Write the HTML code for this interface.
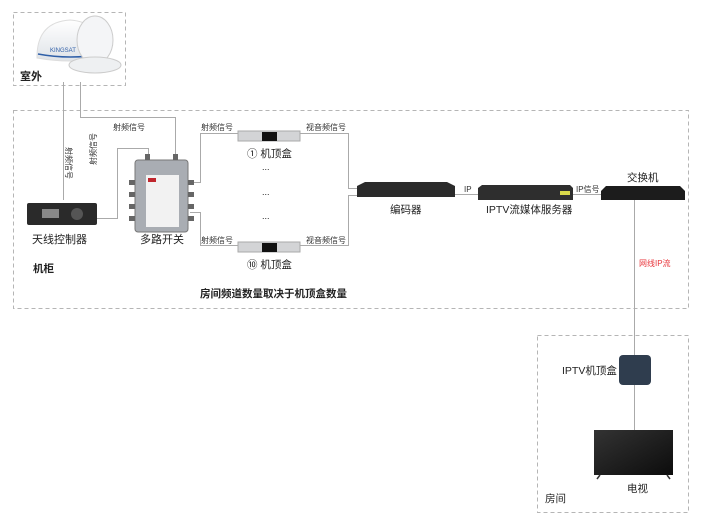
<!DOCTYPE html>
<html><head><meta charset="utf-8"><style>
body{margin:0;background:#fff}
svg text{font-family:"Liberation Sans","Noto Sans CJK SC",sans-serif}
</style></head><body>
<svg width="702" height="524" viewBox="0 0 702 524" xmlns="http://www.w3.org/2000/svg">
<defs>
<linearGradient id="dome" x1="0" y1="0" x2="0" y2="1"><stop offset="0" stop-color="#fff"/><stop offset="1" stop-color="#dfe3e8"/></linearGradient>
<linearGradient id="tv" x1="0" y1="0" x2="1" y2="1"><stop offset="0" stop-color="#333"/><stop offset="1" stop-color="#0c0c0c"/></linearGradient>
</defs>
<g fill="none" stroke="#b5b5b5" stroke-dasharray="4,3" stroke-width="1">
<rect x="13.5" y="12.5" width="112" height="73"/>
<rect x="13.5" y="110.5" width="675" height="198"/>
<rect x="537.5" y="335.5" width="151" height="177"/>
</g>
<g fill="none" stroke="#aaa" stroke-width="1">
<path d="M63.5 82V200"/>
<path d="M80.5 82V117.5H175.5V157"/>
<path d="M97 218.5H117.5V148.5H148.5V158"/>
<path d="M190 182.5H200.5V133.5H240"/>
<path d="M190 212.5H200.5V245.5H240"/>
<path d="M300 133.5H348.5V188.5H357"/>
<path d="M300 245.5H348.5V195.5H357"/>
<path d="M455 194.5H480"/>
<path d="M573 194.5H602"/>
<path d="M634.5 200V432"/>
</g>
<!-- dome -->
<path d="M37 55Q38 22 70 20Q100 22 104 52L104 58Q70 64 37 58Z" fill="url(#dome)" stroke="#ddd"/>
<path d="M38 54Q70 60 104 54" stroke="#2f5fa8" stroke-width="1.5" fill="none"/>
<text x="50" y="52" font-size="6" fill="#2f5fa8">KINGSAT</text>
<ellipse cx="95" cy="40" rx="18" ry="24" fill="#f4f5f7" stroke="#ccc"/>
<ellipse cx="95" cy="65" rx="26" ry="8" fill="#eef0f2" stroke="#ccc"/>
<text x="20" y="80" font-size="11" font-weight="bold" fill="#222">室外</text>
<!-- controller -->
<rect x="27" y="203" width="70" height="22" rx="2" fill="#2a2a2a"/>
<rect x="42" y="209" width="17" height="9" fill="#888"/>
<circle cx="77" cy="214" r="6" fill="#555"/>
<text x="32" y="243" font-size="11" fill="#222">天线控制器</text>
<!-- switch -->
<rect x="135" y="160" width="53" height="72" rx="3" fill="#a9adb3" stroke="#777"/>
<rect x="146" y="175" width="33" height="52" fill="#f2f2f2"/>
<rect x="148" y="178" width="8" height="4" fill="#c0262d"/>
<g fill="#666"><rect x="129" y="180" width="6" height="5"/><rect x="129" y="192" width="6" height="5"/><rect x="129" y="204" width="6" height="5"/><rect x="129" y="216" width="6" height="5"/><rect x="188" y="180" width="6" height="5"/><rect x="188" y="192" width="6" height="5"/><rect x="188" y="204" width="6" height="5"/><rect x="188" y="216" width="6" height="5"/><rect x="145" y="154" width="5" height="6"/><rect x="173" y="154" width="5" height="6"/></g>
<text x="140" y="243" font-size="11" fill="#222">多路开关</text>
<!-- STBs -->
<g><rect x="238" y="131" width="62" height="10" fill="#d3d4d6" stroke="#aaa"/><rect x="262" y="132" width="15" height="9" fill="#111"/></g>
<g><rect x="238" y="242" width="62" height="10" fill="#d3d4d6" stroke="#aaa"/><rect x="262" y="243" width="15" height="9" fill="#111"/></g>
<text x="247" y="157" font-size="10.5" fill="#222">① 机顶盒</text>
<text x="247" y="268" font-size="10.5" fill="#222">⑩ 机顶盒</text>
<text x="262" y="170" font-size="9" fill="#222">...</text>
<text x="262" y="195" font-size="9" fill="#222">...</text>
<text x="262" y="219" font-size="9" fill="#222">...</text>
<g font-size="8" fill="#333">
<text x="113" y="130">射频信号</text>
<text x="201" y="130">射频信号</text>
<text x="306" y="130">视音频信号</text>
<text x="201" y="243">射频信号</text>
<text x="306" y="243">视音频信号</text>
<text x="464" y="192">IP</text>
<text x="576" y="192">IP信号</text>
<text transform="translate(66,147) rotate(90)">射频信号</text>
<text transform="translate(96,165) rotate(-90)">射频信号</text>
</g>
<!-- encoder -->
<path d="M357 186L365 182H447L455 186V197H357Z" fill="#2b2b2b"/>
<text x="390" y="213" font-size="10.5" fill="#222">编码器</text>
<!-- server -->
<path d="M478 188L482 185H570L573 188V200H478Z" fill="#2e2e2e"/>
<rect x="560" y="191" width="10" height="4" fill="#d8d84a"/>
<text x="486" y="213" font-size="10.5" fill="#222">IPTV流媒体服务器</text>
<!-- net switch -->
<path d="M601 191L606 186H680L685 191V200H601Z" fill="#1c1c1c"/>
<text x="627" y="181" font-size="10.5" fill="#222">交换机</text>
<text x="639" y="266" font-size="8" fill="#e8353b">网线IP流</text>
<text x="33" y="272" font-size="10.5" font-weight="bold" fill="#222">机柜</text>
<text x="200" y="297" font-size="10.5" font-weight="bold" fill="#222">房间频道数量取决于机顶盒数量</text>
<!-- room -->
<rect x="619" y="355" width="32" height="30" rx="4" fill="#2f3d4e"/>
<text x="562" y="374" font-size="10.5" fill="#222">IPTV机顶盒</text>
<rect x="594" y="430" width="79" height="45" fill="url(#tv)"/>
<path d="M600 475l-3 4M667 475l3 4" stroke="#333" stroke-width="1.5"/>
<text x="627" y="492" font-size="10.5" fill="#222">电视</text>
<text x="545" y="502" font-size="10.5" fill="#222">房间</text>
</svg>
</body></html>
